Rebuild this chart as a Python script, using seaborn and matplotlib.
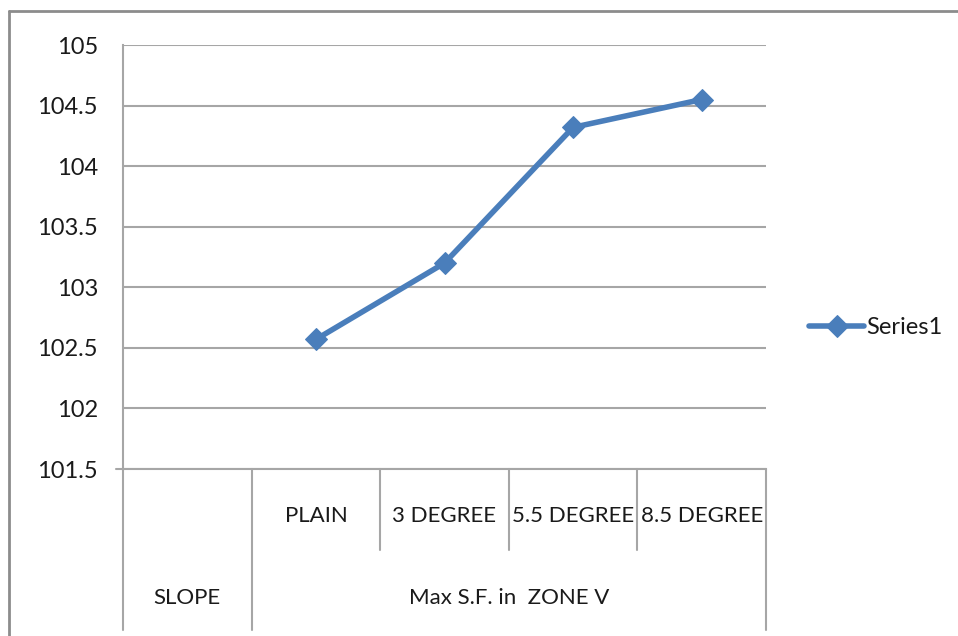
import numpy as np
import pandas as pd
import matplotlib
matplotlib.use('Agg')
import matplotlib.pyplot as plt
import seaborn as sns
from matplotlib.lines import Line2D

# category slots along the x axis (first slot is the "SLOPE" header, no value)
slots = ['SLOPE', 'PLAIN', '3 DEGREE', '5.5 DEGREE', '8.5 DEGREE']
categories = ['PLAIN', '3 DEGREE', '5.5 DEGREE', '8.5 DEGREE']
values = [102.57, 103.2, 104.32, 104.55]
group_labels = ['SLOPE', 'Max S.F. in  ZONE V']
yticks = [101.5, 102, 102.5, 103, 103.5, 104, 104.5, 105]

df = pd.DataFrame({'pos': [slots.index(c) for c in categories], 'value': values})

sns.set_style('white')
plt.rcParams['font.family'] = ['Lato', 'DejaVu Sans']

fig = plt.figure(figsize=(9.58, 6.36), dpi=100)
ax = fig.add_axes([123 / 958, 1 - 469 / 636, (766 - 123) / 958, (469 - 45) / 636])

blue = '#4a7ebb'
grid_c = '#a6a6a6'
txt_c = '#1a1a1a'
sns.lineplot(data=df, x='pos', y='value', ax=ax, color=blue, linewidth=4,
             marker='D', markersize=11, markeredgecolor=blue, label='Series1')

ax.set_xlim(-0.5, len(slots) - 0.5)
ax.set_ylim(101.5, 105)
ax.set_yticks(yticks)
ax.set_yticklabels([f'{t:g}' for t in yticks], fontsize=17, color=txt_c)
ax.tick_params(axis='y', length=5, width=1.5, color=grid_c, pad=13)
ax.set_xticks([])
ax.set_xlabel('')
ax.set_ylabel('')
for t in yticks:
    ax.axhline(t, color=grid_c, lw=1.5, zorder=0)
for s in ['top', 'right']:
    ax.spines[s].set_visible(False)
for s in ['left', 'bottom']:
    ax.spines[s].set_color(grid_c)
    ax.spines[s].set_linewidth(1.5)

# multi-level category axis
h = 424.0
row1_bottom = -81 / h
row2_bottom = -161 / h
tr = ax.get_xaxis_transform()
for b in [-0.5, 0.5, 4.5]:
    ax.plot([b, b], [0, row2_bottom], transform=tr, color=grid_c, lw=1.5, clip_on=False)
for b in [1.5, 2.5, 3.5]:
    ax.plot([b, b], [0, row1_bottom], transform=tr, color=grid_c, lw=1.5, clip_on=False)
ax.plot([-0.5 - 0.055, -0.5], [0, 0], transform=tr, color=grid_c, lw=1.5, clip_on=False)

for c in categories:
    ax.text(slots.index(c), -47 / h, c, transform=tr, ha='center', va='center',
            fontsize=16, color=txt_c)
ax.text(0, -129 / h, group_labels[0], transform=tr, ha='center', va='center',
        fontsize=16, color=txt_c)
ax.text(2.5, -129 / h, group_labels[1], transform=tr, ha='center', va='center',
        fontsize=16, color=txt_c)

leg = ax.legend(loc='center left', bbox_to_anchor=(800 / 958, 1 - 328 / 636),
                bbox_transform=fig.transFigure, frameon=False, fontsize=17,
                handlelength=2.3, handletextpad=0.1, borderaxespad=0)
for t in leg.get_texts():
    t.set_color(txt_c)

# outer chart frame (top and left edges visible)
fig.add_artist(Line2D([9 / 958, 9 / 958], [0, 1 - 11 / 636], color='#8c8c8c', lw=2))
fig.add_artist(Line2D([9 / 958, 1], [1 - 11 / 636, 1 - 11 / 636], color='#8c8c8c', lw=2))

fig.savefig('out.png', dpi=100)
